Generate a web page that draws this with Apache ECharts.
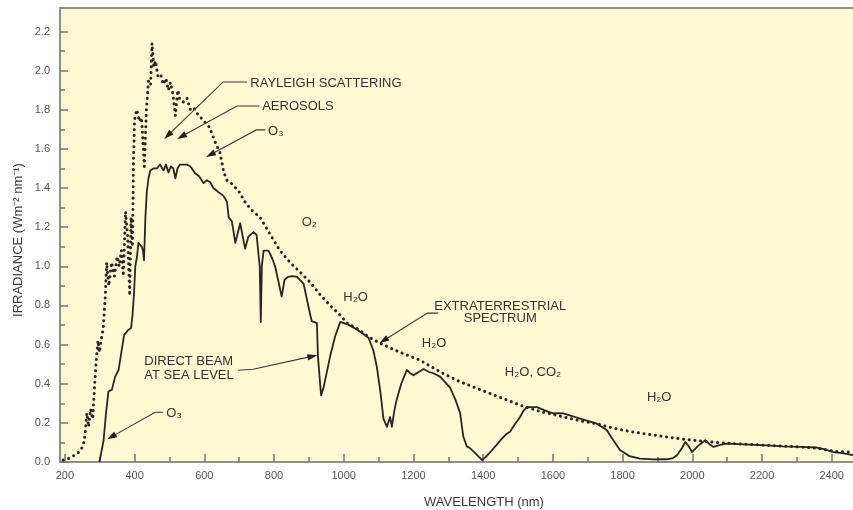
<!DOCTYPE html>
<html>
<head>
<meta charset="utf-8">
<title>Solar spectral irradiance</title>
<script src="https://cdn.jsdelivr.net/npm/echarts@6/dist/echarts.min.js"></script>
<style>
  html, body { margin: 0; padding: 0; background: #ffffff; }
  #chart { width: 853px; height: 510px; }
</style>
</head>
<body>
<div id="chart"></div>
<script>
// Wavelength axis ticks (nm)
const wavelengthTicks = [200, 400, 600, 800, 1000, 1200, 1400, 1600, 1800, 2000, 2200, 2400];
const wavelengthMinorTicks = [300, 500, 700, 900, 1100, 1300, 1500, 1700, 1900, 2100, 2300];
// Irradiance axis ticks (W m^-2 nm^-1)
const irradianceTicks = [0.0, 0.2, 0.4, 0.6, 0.8, 1.0, 1.2, 1.4, 1.6, 1.8, 2.0, 2.2];
const irradianceMinorTicks = [0.1, 0.3, 0.5, 0.7, 0.9, 1.1, 1.3, 1.5, 1.7, 1.9, 2.1];

// Extraterrestrial spectrum: [wavelength nm, irradiance]
const extraterrestrial = [
  [195,0.01],[215,0.02],[240,0.05],[252,0.08],[258,0.14],[263,0.25],[268,0.18],[274,0.27],
  [280,0.22],[285,0.38],[290,0.52],[295,0.62],[299,0.56],[304,0.62],[310,0.68],[316,0.85],
  [320,1.02],[326,0.90],[334,1.02],[342,0.95],[350,1.05],[356,1.00],[362,1.08],[368,0.95],
  [374,1.28],[380,1.15],[386,0.85],[390,1.25],[394,1.10],[397,1.55],[400,1.75],[406,1.80],
  [414,1.74],[420,1.76],[428,1.51],[434,1.80],[440,1.95],[446,1.93],[450,2.14],
  [455,2.02],[460,2.05],[467,1.97],[475,1.98],[482,1.93],[490,1.96],[497,1.90],[503,1.94],
  [510,1.88],[517,1.77],[524,1.90],[530,1.85],[540,1.84],[550,1.86],[560,1.80],[570,1.81],
  [580,1.78],[590,1.76],[600,1.74],[615,1.71],[630,1.64],[645,1.58],[656,1.48],[665,1.44],
  [680,1.42],[700,1.38],[720,1.32],[740,1.28],[760,1.25],[790,1.16],[817,1.08],[846,1.02],
  [875,0.97],[903,0.92],[930,0.86],[961,0.80],[990,0.75],[1009,0.71],[1040,0.68],[1071,0.64],
  [1105,0.606],[1162,0.56],[1219,0.52],[1277,0.46],[1334,0.41],[1391,0.37],[1449,0.33],
  [1507,0.29],[1560,0.26],[1620,0.235],[1680,0.21],[1726,0.195],[1780,0.17],[1831,0.153],
  [1880,0.14],[1927,0.128],[1980,0.115],[2022,0.108],[2070,0.10],[2118,0.094],[2214,0.085],
  [2310,0.077],[2360,0.07],[2405,0.055],[2461,0.05]
];

// Direct beam at sea level: [wavelength nm, irradiance]
const directBeam = [
  [299,0.0],[311,0.11],[318,0.25],[325,0.36],[335,0.37],[344,0.435],[354,0.47],[362,0.56],
  [370,0.65],[382,0.675],[390,0.685],[394,0.75],[398,0.85],[402,1.0],[407,1.05],[411,1.12],
  [416,1.13],[421,1.10],[424,1.08],[427,1.03],[431,1.25],[435,1.38],[440,1.45],[445,1.49],
  [454,1.50],[464,1.50],[473,1.52],[483,1.49],[490,1.52],[497,1.48],[504,1.51],[511,1.50],
  [517,1.45],[523,1.50],[530,1.52],[540,1.52],[550,1.52],[560,1.51],[574,1.475],[585,1.46],
  [598,1.425],[607,1.44],[617,1.43],[626,1.40],[640,1.38],[655,1.36],[665,1.33],[670,1.25],
  [679,1.23],[689,1.12],[703,1.22],[708,1.23],[717,1.09],[726,1.15],[741,1.175],[750,1.16],
  [755,1.15],[759,1.0],[762,0.715],[765,1.0],[770,1.08],[784,1.08],[795,1.04],[803,1.0],
  [813,0.92],[822,0.845],[830,0.93],[840,0.946],[852,0.95],[866,0.946],[885,0.91],[898,0.80],
  [908,0.72],[923,0.71],[926,0.54],[935,0.34],[942,0.38],[961,0.54],[975,0.64],[990,0.716],
  [1009,0.705],[1040,0.675],[1071,0.635],[1085,0.57],[1095,0.486],[1105,0.36],[1114,0.22],
  [1124,0.18],[1133,0.23],[1138,0.18],[1145,0.26],[1152,0.32],[1165,0.40],[1181,0.47],
  [1190,0.455],[1200,0.443],[1215,0.46],[1229,0.475],[1245,0.46],[1262,0.45],[1277,0.435],
  [1290,0.41],[1305,0.38],[1320,0.32],[1334,0.25],[1343,0.13],[1353,0.08],[1363,0.07],
  [1380,0.04],[1397,0.01],[1410,0.03],[1425,0.06],[1440,0.09],[1449,0.11],[1465,0.14],
  [1477,0.155],[1490,0.19],[1506,0.23],[1515,0.26],[1525,0.28],[1540,0.28],[1554,0.28],
  [1575,0.265],[1590,0.255],[1602,0.248],[1615,0.25],[1630,0.248],[1655,0.235],[1678,0.222],
  [1700,0.21],[1726,0.196],[1740,0.18],[1755,0.162],[1770,0.12],[1793,0.06],[1820,0.03],
  [1850,0.017],[1890,0.013],[1927,0.014],[1945,0.02],[1956,0.034],[1970,0.07],[1980,0.102],
  [1990,0.08],[1999,0.051],[2015,0.08],[2037,0.111],[2050,0.09],[2061,0.077],[2080,0.088],
  [2099,0.094],[2150,0.09],[2214,0.085],[2260,0.08],[2310,0.077],[2357,0.074],[2380,0.065],
  [2405,0.051],[2430,0.045],[2461,0.035]
];

// Absorption / feature labels placed in data coordinates
const featureLabels = [
  { text: 'RAYLEIGH SCATTERING', at: [732, 1.937], align: 'left' },
  { text: 'AEROSOLS', at: [766, 1.817], align: 'left' },
  { text: 'O\u2083', at: [783, 1.689], align: 'left' },
  { text: 'O\u2082', at: [901, 1.225], align: 'center' },
  { text: 'H\u2082O', at: [1034, 0.842], align: 'center' },
  { text: 'EXTRATERRESTRIAL', at: [1449, 0.796], align: 'center' },
  { text: 'SPECTRUM', at: [1449, 0.735], align: 'center' },
  { text: 'H\u2082O', at: [1259, 0.607], align: 'center' },
  { text: 'H\u2082O, CO\u2082', at: [1543, 0.459], align: 'center' },
  { text: 'H\u2082O', at: [1905, 0.331], align: 'center' },
  { text: 'DIRECT BEAM', at: [428, 0.5125], align: 'left' },
  { text: 'AT SEA LEVEL', at: [428, 0.4435], align: 'left' },
  { text: 'O\u2083', at: [491, 0.249], align: 'left' }
];

// Leader arrows: points in data coordinates, last point is the arrow tip
const leaderArrows = [
  [[723, 1.942], [654, 1.942], [485, 1.651]],
  [[758, 1.819], [694, 1.819], [522, 1.651]],
  [[775, 1.697], [749, 1.697], [605, 1.558]],
  [[1271, 0.761], [1240, 0.761], [1102, 0.607]],
  [[697, 0.469], [740, 0.474], [924, 0.546]],
  [[482, 0.254], [459, 0.254], [321, 0.116]]
];

const FONT = '"Liberation Sans", Arial, Helvetica, sans-serif';
const axisGray = '#8f8f8f';
const tickGray = '#777777';
const ink = '#262626';

const chart = echarts.init(document.getElementById('chart'), null, { renderer: 'canvas' });

const xBase = { type: 'value', min: 186, max: 2461, gridIndex: 0, splitLine: { show: false } };
const yBase = { type: 'value', min: 0, max: 2.32, gridIndex: 0, splitLine: { show: false } };

chart.setOption({
  animation: false,
  backgroundColor: '#ffffff',
  grid: {
    left: 60, right: 0, top: 8, bottom: 48,
    show: true, backgroundColor: '#fef9d3', borderWidth: 0
  },
  xAxis: [
    Object.assign({}, xBase, {
      position: 'bottom',
      axisLine: { show: true, onZero: false, lineStyle: { color: axisGray, width: 2 } },
      axisTick: { show: true, inside: true, length: 8, customValues: wavelengthTicks,
                  lineStyle: { color: tickGray, width: 1.5 } },
      axisLabel: { show: true, customValues: wavelengthTicks, color: '#555555',
                   fontSize: 11, fontFamily: FONT, margin: 8,
                   formatter: v => String(Math.round(v)) }
    }),
    Object.assign({}, xBase, {
      position: 'bottom',
      axisLine: { show: false },
      axisTick: { show: true, inside: true, length: 5, customValues: wavelengthMinorTicks,
                  lineStyle: { color: tickGray, width: 1.5 } },
      axisLabel: { show: false }
    }),
    Object.assign({}, xBase, {
      position: 'top',
      axisLine: { show: true, onZero: false, lineStyle: { color: axisGray, width: 2 } },
      axisTick: { show: false },
      axisLabel: { show: false }
    })
  ],
  yAxis: [
    Object.assign({}, yBase, {
      position: 'left',
      axisLine: { show: true, onZero: false, lineStyle: { color: axisGray, width: 2 } },
      axisTick: { show: true, inside: true, length: 8, customValues: irradianceTicks,
                  lineStyle: { color: tickGray, width: 1.5 } },
      axisLabel: { show: true, customValues: irradianceTicks, color: '#555555',
                   fontSize: 11, fontFamily: FONT, margin: 10,
                   formatter: v => Number(v).toFixed(1) }
    }),
    Object.assign({}, yBase, {
      position: 'left',
      axisLine: { show: false },
      axisTick: { show: true, inside: true, length: 5, customValues: irradianceMinorTicks,
                  lineStyle: { color: tickGray, width: 1.5 } },
      axisLabel: { show: false }
    })
  ],
  series: [
    {
      name: 'Extraterrestrial spectrum',
      type: 'line', xAxisIndex: 0, yAxisIndex: 0,
      data: extraterrestrial, showSymbol: false, smooth: false,
      lineStyle: { color: ink, width: 3, type: [0.1, 5.6], cap: 'round' },
      z: 3
    },
    {
      name: 'Direct beam at sea level',
      type: 'line', xAxisIndex: 0, yAxisIndex: 0,
      data: directBeam, showSymbol: false, smooth: false,
      lineStyle: { color: ink, width: 1.8, join: 'round' },
      z: 4
    }
  ]
});

// Axis titles, feature labels and leader arrows
function toPx(p) {
  return chart.convertToPixel({ xAxisIndex: 0, yAxisIndex: 0 }, p);
}

const graphics = [];

graphics.push({
  type: 'text', x: 484, y: 502,
  style: { text: 'WAVELENGTH (nm)', fill: '#3a3a3a', font: '13px ' + FONT,
           align: 'center', verticalAlign: 'middle' }
});
graphics.push({
  type: 'text', x: 18, y: 240, rotation: Math.PI / 2,
  style: { text: 'IRRADIANCE (Wm\u207B\u00B2 nm\u207B\u00B9)', fill: '#3a3a3a', font: '13px ' + FONT,
           align: 'center', verticalAlign: 'middle' }
});

featureLabels.forEach(l => {
  const p = toPx(l.at);
  graphics.push({
    type: 'text', x: p[0], y: p[1], z: 10,
    style: { text: l.text, fill: '#333333', font: '13px ' + FONT,
             align: l.align, verticalAlign: 'middle' }
  });
});

leaderArrows.forEach(pts => {
  const px = pts.map(toPx);
  const tip = px[px.length - 1];
  const prev = px[px.length - 2];
  const dx = tip[0] - prev[0], dy = tip[1] - prev[1];
  const len = Math.sqrt(dx * dx + dy * dy);
  const ux = dx / len, uy = dy / len;
  const headLen = 10, headHalf = 3.2;
  const bx = tip[0] - ux * headLen, by = tip[1] - uy * headLen;
  graphics.push({
    type: 'polyline', z: 10,
    shape: { points: px.slice(0, -1).concat([[bx + ux * 2, by + uy * 2]]) },
    style: { stroke: '#3a3a3a', lineWidth: 1.1, fill: null }
  });
  graphics.push({
    type: 'polygon', z: 10,
    shape: { points: [tip, [bx - uy * headHalf, by + ux * headHalf], [bx + uy * headHalf, by - ux * headHalf]] },
    style: { fill: '#222222', stroke: null }
  });
});

chart.setOption({ graphic: graphics });
</script>
</body>
</html>
